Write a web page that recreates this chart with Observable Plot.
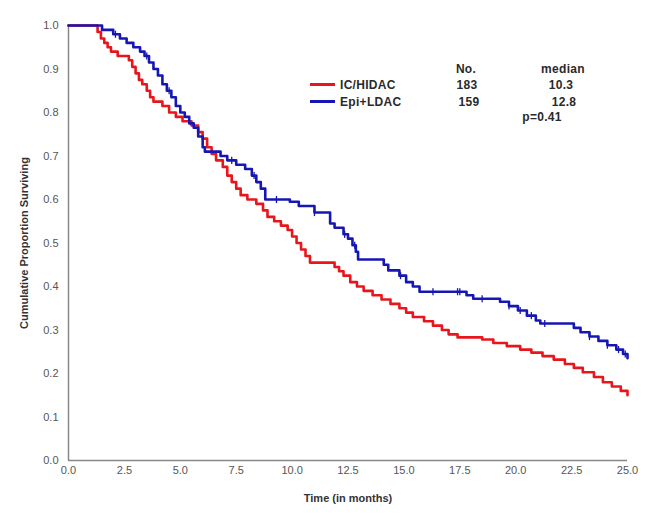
<!DOCTYPE html>
<html>
<head>
<meta charset="utf-8">
<script src="https://cdn.jsdelivr.net/npm/d3@7"></script>
<script src="https://cdn.jsdelivr.net/npm/@observablehq/plot@0.6"></script>
<style>
  html, body { margin: 0; padding: 0; background: #fff; }
  #wrap { position: relative; width: 662px; height: 529px; font-family: Arial, "Liberation Sans", sans-serif; }
  .lg { position: absolute; font-size: 12px; line-height: 14px; font-weight: bold; letter-spacing: 0.3px; color: #2a2a2a; white-space: nowrap; }
  .sw { position: absolute; height: 3px; width: 25px; }
</style>
</head>
<body>
<div id="wrap"></div>
<script>
const seriesNames = ["IC/HIDAC", "Epi+LDAC"];
const seriesColors = ["#e8161c", "#1616b4"];
const seriesN = [183, 159];
const seriesMedian = ["10.3", "12.8"];
const pValue = "p=0.41";

const redTime = [0,1.1,1.3,1.45,1.6,1.75,1.9,2.2,2.7,2.85,3.0,3.15,3.3,3.5,3.65,3.8,4.2,4.5,4.8,5.1,5.5,5.8,6.0,6.2,6.4,6.6,6.9,7.1,7.3,7.5,7.7,8.0,8.4,8.7,8.9,9.2,9.5,9.8,10.0,10.2,10.4,10.6,10.8,11.9,12.1,12.3,12.6,12.9,13.2,13.6,14.0,14.4,14.8,15.1,15.4,15.9,16.3,16.7,17.0,17.4,18.5,19.0,19.6,20.2,20.7,21.2,21.7,22.2,22.6,23.0,23.5,23.9,24.3,24.7,25.0];
const redSurv = [1.0,1.0,0.985,0.97,0.96,0.95,0.94,0.93,0.92,0.905,0.89,0.875,0.865,0.85,0.835,0.825,0.815,0.80,0.79,0.78,0.77,0.755,0.74,0.72,0.705,0.69,0.675,0.655,0.64,0.625,0.61,0.60,0.59,0.575,0.56,0.55,0.54,0.53,0.515,0.50,0.485,0.47,0.455,0.445,0.435,0.425,0.41,0.40,0.39,0.38,0.37,0.36,0.35,0.34,0.33,0.32,0.31,0.30,0.29,0.283,0.278,0.27,0.263,0.255,0.248,0.24,0.232,0.222,0.213,0.203,0.192,0.18,0.17,0.16,0.15];

const blueTime = [0,1.2,1.5,2.0,2.3,2.6,2.9,3.2,3.4,3.6,3.8,4.0,4.2,4.4,4.6,4.8,5.0,5.2,5.4,5.6,5.8,6.0,6.1,6.8,7.1,7.5,7.9,8.2,8.4,8.6,8.8,9.9,10.3,11.0,11.7,11.9,12.3,12.5,12.7,12.85,12.95,14.1,14.3,14.8,15.1,15.4,15.7,17.8,18.1,19.3,19.7,20.1,20.5,20.9,21.1,22.6,22.9,23.3,23.7,24.1,24.5,24.8,25.0];
const blueSurv = [1.0,1.0,0.99,0.98,0.97,0.96,0.95,0.94,0.93,0.915,0.90,0.885,0.865,0.85,0.835,0.815,0.80,0.79,0.775,0.765,0.745,0.72,0.71,0.70,0.69,0.68,0.67,0.655,0.64,0.625,0.60,0.595,0.585,0.57,0.545,0.535,0.52,0.51,0.495,0.48,0.462,0.45,0.437,0.425,0.41,0.40,0.388,0.38,0.372,0.365,0.355,0.345,0.333,0.322,0.315,0.305,0.295,0.285,0.275,0.265,0.255,0.245,0.235];

// censoring marks visible on the Epi+LDAC curve (months)
const blueCensor = [2.1,3.5,4.5,7.3,8.3,9.3,11.0,12.35,12.8,14.85,16.3,17.4,17.5,18.5,19.7,20.2,20.7,21.3,23.3,24.1,24.6,24.9];

const xTicks = [0,2.5,5,7.5,10,12.5,15,17.5,20,22.5,25];
const yTicks = [0,0.1,0.2,0.3,0.4,0.5,0.6,0.7,0.8,0.9,1.0];

const rows = [];
redTime.forEach((t, i) => rows.push({series: seriesNames[0], t, s: redSurv[i]}));
blueTime.forEach((t, i) => rows.push({series: seriesNames[1], t, s: blueSurv[i]}));

function stepAt(times, surv, t) {
  let v = surv[0];
  for (let i = 0; i < times.length; i++) { if (times[i] <= t) v = surv[i]; else break; }
  return v;
}
const censorRows = blueCensor.map(t => ({t, s: stepAt(blueTime, blueSurv, t)}));

const vtick = {draw(ctx, size) { const r = Math.sqrt(size) / 2; ctx.moveTo(0, -r); ctx.lineTo(0, r); }};

const chart = Plot.plot({
  width: 662,
  height: 529,
  marginTop: 25,
  marginBottom: 69,
  marginLeft: 68,
  marginRight: 35,
  style: {fontFamily: "Arial, 'Liberation Sans', sans-serif", fontSize: "11px", background: "#fff"},
  x: {domain: [0, 25]},
  y: {domain: [0, 1]},
  color: {domain: seriesNames, range: seriesColors},
  marks: [
    Plot.axisX({ticks: xTicks, tickSize: 0, tickPadding: 6, tickFormat: d => d.toFixed(1), fill: "#555", label: "Time (in months)", labelAnchor: "center", labelArrow: "none", labelOffset: 41}),
    Plot.axisY({ticks: yTicks, tickSize: 0, tickPadding: 10, tickFormat: d => d.toFixed(1), fill: "#555", label: "Cumulative Proportion Surviving", labelAnchor: "center", labelArrow: "none", labelOffset: 48}),
    Plot.ruleX([0], {stroke: "#888", strokeWidth: 1.5}),
    Plot.ruleY([0], {stroke: "#888", strokeWidth: 1.5}),
    Plot.line(rows, {x: "t", y: "s", z: "series", stroke: "series", curve: "step-after", strokeWidth: 2.6}),
    Plot.dot(censorRows, {x: "t", y: "s", symbol: vtick, r: 4, stroke: seriesColors[1], strokeWidth: 1.3})
  ]
});
chart.querySelectorAll("g[aria-label='x-axis label'] text, g[aria-label='y-axis label'] text").forEach(t => {
  t.setAttribute("font-weight", "bold"); t.setAttribute("fill", "#333");
});
const wrap = document.getElementById("wrap");
wrap.appendChild(chart);

function add(txt, left, top, align) {
  const d = document.createElement("div");
  d.className = "lg";
  d.textContent = txt;
  d.style.left = left + "px"; d.style.top = top + "px";
  if (align === "center") d.style.transform = "translateX(-50%)";
  wrap.appendChild(d);
}
function sw(color, left, top) {
  const d = document.createElement("div");
  d.className = "sw"; d.style.background = color;
  d.style.left = left + "px"; d.style.top = top + "px";
  wrap.appendChild(d);
}
add("No.", 466, 62, "center");
add("median", 563, 62, "center");
const rowTops = [78, 95];
const nCenters = [467, 469];
const medCenters = [561, 564];
seriesNames.forEach((n, i) => {
  const top = rowTops[i];
  sw(seriesColors[i], 310, top + 5);
  add(n, 340, top);
  add(String(seriesN[i]), nCenters[i], top, "center");
  add(seriesMedian[i], medCenters[i], top, "center");
});
add(pValue, 542, 110, "center");
</script>
</body>
</html>
